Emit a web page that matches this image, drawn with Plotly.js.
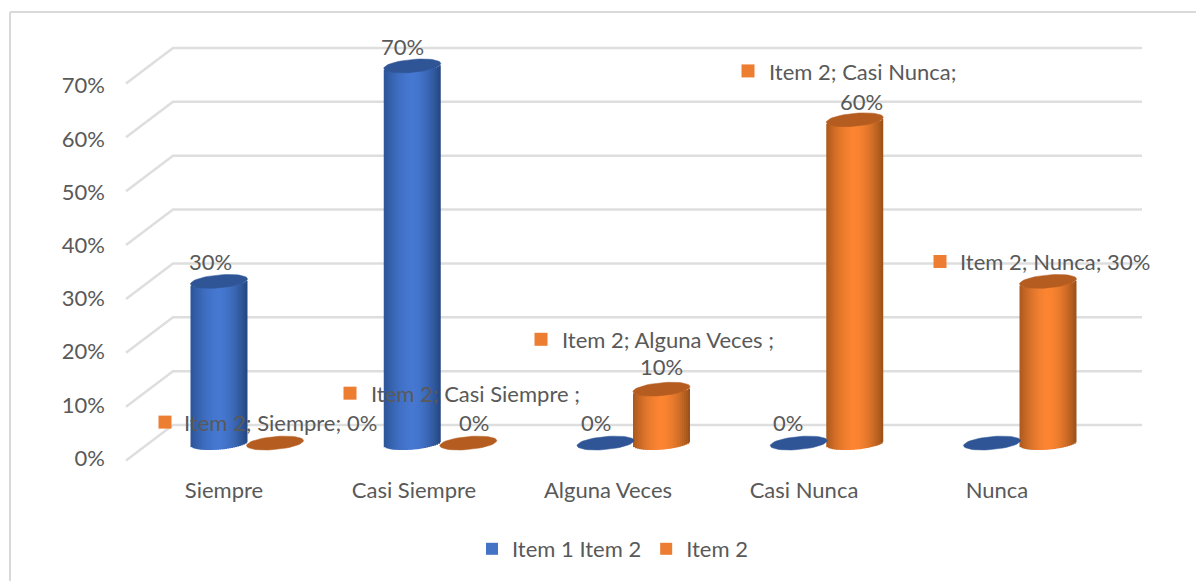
<!DOCTYPE html>
<html><head><meta charset="utf-8">
<script src="https://cdn.plot.ly/plotly-3.0.1.min.js"></script>
<style>html,body{margin:0;padding:0;background:#fff}#c{width:1196px;height:581px}</style></head>
<body><div id="c"></div>
<script>
// ---- data ----
var categories = ['Siempre','Casi Siempre','Alguna Veces','Casi Nunca','Nunca'];
var item1Name = 'Item 1 Item 2';
var item2Name = 'Item 2';
var item1Values = [30,70,0,0,0];
var item2Values = [0,0,10,60,30];
var yTicks = [0,10,20,30,40,50,60,70];

// ---- layout constants (page pixels) ----
var W=1196,H=581, L=106,R=1160,T=30,B=470;
var firstCx=219, step=193.25, pairGap=56, cylW=57, ellB=6.5, ellTilt=2.5;
var wallY0=426, wallScale=5.4, labelY0=459, labelScale=5.33, floorY=444;
var frontDX=126, backDX=173, endDX=1142, frontDY=35.5;
function ix(p){return (p-firstCx)/step;}
function wv(p){return (wallY0-p)/wallScale;}
function px(p){return (p-L)/(R-L);}
function py(p){return (B-p)/(B-T);}
var floorV=wv(floorY);
var font='Lato, "Open Sans", sans-serif', txt='#595959', fs=22;

function hex(a,b,t){var o='#';for(var i=0;i<3;i++){var v=Math.round(a[i]+(b[i]-a[i])*t);o+=('0'+v.toString(16)).slice(-2);}return o;}
var traces=[];

// back wall and side wall lines
var gx=[],gy=[];
yTicks.forEach(function(v){gx.push(ix(frontDX),ix(backDX),ix(endDX),null);gy.push(v-frontDY/wallScale,v,v,null);});
traces.push({type:'scatter',mode:'lines',x:gx,y:gy,xaxis:'x',yaxis:'y',line:{color:'#dedede',width:2.5},showlegend:false,hoverinfo:'skip'});

// tick label axis
traces.push({type:'scatter',mode:'markers',x:yTicks.map(function(){return ix(frontDX);}),y:yTicks,xaxis:'x',yaxis:'y3',marker:{opacity:0,size:1},showlegend:false,hoverinfo:'skip'});

function series(values,name,dx,legendColor,center,left,right,topColor){
  var cx=values.map(function(v,i){return i+dx/step;});
  // legend-carrying solid bar, covered by the shaded strips
  traces.push({type:'bar',name:name,x:cx,y:values,base:values.map(function(){return floorV;}),width:48/step,
    marker:{color:legendColor,line:{width:0}},xaxis:'x',yaxis:'y2',hoverinfo:'skip'});
  var N=29, sw=cylW/N, extra=1.2;
  for(var k=0;k<N;k++){
    var u=((k+.5)/N-.5)*2;
    var off=u*cylW/2;
    var h=(ellB*Math.sqrt(1-u*u)-ellTilt*u)/wallScale;
    var m=Math.pow(Math.abs(u),1.7);
    var col=u<0?hex(center,left,m):hex(center,right,m);
    var ext=k<N-1?extra:0;
    traces.push({type:'bar',x:cx.map(function(c){return c+(off+ext/2)/step;}),y:values,
      base:values.map(function(){return floorV-h;}),width:(sw+ext)/step,
      marker:{color:col,line:{width:0}},xaxis:'x',yaxis:'y2',showlegend:false,hoverinfo:'skip'});
  }
  // elliptical cylinder tops (a flat disc where the value is zero)
  var ex=[],ey=[];
  cx.forEach(function(c,i){
    for(var j=0;j<=48;j++){var t=j/48*2*Math.PI;
      ex.push(c+Math.cos(t)*cylW/2/step);
      ey.push(floorV+values[i]+(ellB*Math.sin(t)+ellTilt*Math.cos(t))/wallScale);}
    ex.push(null);ey.push(null);
  });
  traces.push({type:'scatter',mode:'lines',x:ex,y:ey,fill:'toself',fillcolor:topColor,line:{color:topColor,width:0.5},
    xaxis:'x',yaxis:'y2',showlegend:false,hoverinfo:'skip'});
}
series(item1Values,item1Name,0,'#4472C4',[70,120,210],[44,84,150],[36,70,125],'#2F5597');
series(item2Values,item2Name,pairGap,'#ED7D31',[252,133,50],[170,88,30],[152,80,25],'#B55D20');

// legend-key squares of the data labels
var keyPx=[165,350,541,748,940], keyPy=[423,394,340,71,262];
traces.push({type:'scatter',mode:'markers',x:keyPx.map(ix),y:keyPy.map(wv),xaxis:'x',yaxis:'y2',
  marker:{symbol:'square',size:13,color:'#ED7D31'},showlegend:false,hoverinfo:'skip'});

// data labels
var ann=[];
function lab(t,x,y,anchor){ann.push({text:t,xref:'paper',yref:'paper',x:px(x),y:py(y),xanchor:anchor,yanchor:'middle',showarrow:false,font:{family:font,size:fs,color:txt}});}
function pct(v){return v+'%';}
lab(item2Name+'; '+categories[0]+'; '+pct(item2Values[0]),182,423,'left');
lab(item2Name+'; '+categories[1]+' ;',369,394,'left');  lab(pct(item2Values[1]),474,423,'center');
lab(item2Name+'; '+categories[2]+' ;',560,340,'left');  lab(pct(item2Values[2]),661,367,'center');
lab(item2Name+'; '+categories[3]+';',767,72,'left');    lab(pct(item2Values[3]),861,102,'center');
lab(item2Name+'; '+categories[4]+'; '+pct(item2Values[4]),958,262,'left');
lab(pct(item1Values[0]),210,262,'center');
lab(pct(item1Values[1]),402,47,'center');
lab(pct(item1Values[2]),596,423,'center');
lab(pct(item1Values[3]),788,423,'center');

var catPx=[224,414,608,804,997];
var layout={
  width:W,height:H,autosize:false,paper_bgcolor:'#fff',plot_bgcolor:'rgba(0,0,0,0)',
  margin:{l:L,r:W-R,t:T,b:H-B,pad:0},
  barmode:'overlay',hovermode:false,showlegend:true,
  font:{family:font,size:fs,color:txt},
  xaxis:{type:'linear',range:[ix(L),ix(R)],tickmode:'array',tickvals:catPx.map(ix),ticktext:categories,ticks:'',ticklabelstandoff:6,showgrid:false,zeroline:false,showline:false,tickfont:{family:font,size:fs,color:txt}},
  yaxis:{range:[wv(B),wv(T)],visible:false,showgrid:false,zeroline:false},
  yaxis2:{overlaying:'y',range:[wv(B),wv(T)],visible:false,showgrid:false,zeroline:false},
  yaxis3:{overlaying:'y',side:'left',range:[(labelY0-B)/labelScale,(labelY0-T)/labelScale],tickmode:'array',tickvals:yTicks,ticktext:yTicks.map(pct),ticks:'',showgrid:false,zeroline:false,showline:false,tickfont:{family:font,size:fs,color:txt}},
  legend:{orientation:'h',x:px(472),y:py(549),xanchor:'left',yanchor:'middle',bgcolor:'rgba(0,0,0,0)',font:{family:font,size:fs,color:txt}},
  annotations:ann,
  shapes:[
    {type:'line',xref:'paper',yref:'paper',x0:px(10),x1:px(10),y0:py(12),y1:py(H+2),line:{color:'#d9d9d9',width:2},layer:'below'},
    {type:'line',xref:'paper',yref:'paper',x0:px(10),x1:px(W+2),y0:py(12),y1:py(12),line:{color:'#d9d9d9',width:2},layer:'below'}
  ]
};
Plotly.newPlot('c',traces,layout,{displayModeBar:false,staticPlot:true});
</script></body></html>
